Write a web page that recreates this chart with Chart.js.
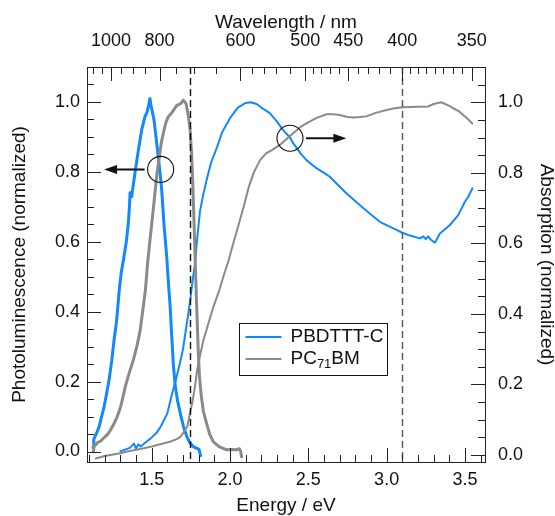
<!DOCTYPE html>
<html><head><meta charset="utf-8">
<script src="https://cdn.jsdelivr.net/npm/chart.js@4.4.1/dist/chart.umd.min.js"></script>
<style>html,body{margin:0;padding:0;background:#fff;overflow:hidden}</style>
</head><body>
<canvas id="c" width="555" height="516"></canvas>
<script>
// ---------- data ----------
const seriesNames = ['PBDTTT-C', 'PC_{71}BM'];

// PBDTTT-C photoluminescence (left axis)
const plBlueE = [1.126,1.13,1.14,1.15,1.165,1.18,1.196,1.21,1.228,1.245,1.26,1.275,1.285,1.293,1.305,1.323,1.338,1.351,1.358,1.362,1.372,1.393,1.415,1.436,1.457,1.47,1.478,1.489,1.495,1.503,1.515,1.53,1.542,1.555,1.564,1.578,1.596,1.61,1.617,1.628,1.638,1.65,1.665,1.685,1.705,1.725,1.745,1.765,1.785,1.802,1.812];
const plBlueV = [0.012,0.035,0.045,0.055,0.071,0.1,0.128,0.16,0.205,0.26,0.32,0.37,0.42,0.462,0.51,0.557,0.6,0.653,0.70,0.74,0.729,0.796,0.862,0.92,0.958,0.97,0.985,1.01,0.99,0.975,0.948,0.89,0.843,0.79,0.748,0.653,0.557,0.462,0.42,0.33,0.25,0.19,0.145,0.105,0.068,0.042,0.024,0.014,0.01,0.006,-0.012];

// PC71BM photoluminescence (left axis)
const plGreyE = [1.128,1.133,1.14,1.153,1.175,1.196,1.22,1.238,1.26,1.28,1.3,1.312,1.334,1.36,1.383,1.405,1.426,1.445,1.46,1.474,1.488,1.5,1.521,1.535,1.549,1.56,1.574,1.59,1.606,1.63,1.66,1.685,1.702,1.72,1.734,1.745,1.755,1.762,1.77,1.777,1.783,1.79,1.797,1.805,1.815,1.83,1.851,1.87,1.893,1.93,1.979,2.01,2.042,2.06,2.068,2.074];
const plGreyV = [0.0,0.02,0.018,0.025,0.03,0.04,0.05,0.062,0.08,0.1,0.125,0.147,0.19,0.23,0.262,0.3,0.345,0.41,0.462,0.54,0.6,0.65,0.74,0.8,0.843,0.88,0.91,0.94,0.958,0.97,0.99,0.995,1.005,0.995,0.96,0.92,0.85,0.77,0.66,0.56,0.47,0.38,0.29,0.215,0.165,0.115,0.08,0.05,0.028,0.014,0.005,0.006,0.005,0.008,0.0,-0.015];

// PBDTTT-C absorption (right axis)
const absBlueE = [1.30,1.33,1.36,1.387,1.40,1.415,1.43,1.46,1.494,1.53,1.557,1.6,1.631,1.653,1.68,1.70,1.72,1.745,1.76,1.776,1.79,1.808,1.83,1.851,1.88,1.915,1.95,2.0,2.05,2.1,2.13,2.17,2.2,2.254,2.3,2.339,2.383,2.403,2.45,2.488,2.552,2.637,2.743,2.85,2.956,3.063,3.10,3.149,3.213,3.235,3.25,3.265,3.28,3.309,3.34,3.404,3.457,3.5,3.521,3.548];
const absBlueV = [0.01,0.015,0.02,0.032,0.018,0.03,0.024,0.035,0.047,0.062,0.08,0.118,0.175,0.21,0.26,0.30,0.36,0.435,0.49,0.54,0.61,0.69,0.74,0.78,0.83,0.87,0.915,0.955,0.985,0.998,1.0,0.995,0.985,0.969,0.945,0.921,0.9,0.884,0.855,0.836,0.813,0.789,0.742,0.70,0.661,0.638,0.63,0.622,0.614,0.62,0.612,0.62,0.611,0.602,0.628,0.652,0.68,0.718,0.732,0.756];

// PC71BM absorption (right axis)
const absGreyE = [1.143,1.2,1.237,1.3,1.344,1.4,1.45,1.5,1.536,1.58,1.621,1.66,1.685,1.705,1.727,1.745,1.76,1.775,1.79,1.81,1.83,1.86,1.894,1.93,1.958,1.99,2.021,2.05,2.087,2.12,2.151,2.192,2.23,2.27,2.318,2.36,2.403,2.45,2.488,2.55,2.616,2.66,2.7,2.75,2.786,2.83,2.871,2.93,3.0,3.05,3.105,3.2,3.264,3.3,3.349,3.4,3.425,3.46,3.489,3.52,3.547];
const absGreyV = [-0.01,-0.003,0.0,0.005,0.01,0.015,0.019,0.024,0.028,0.033,0.038,0.045,0.052,0.065,0.08,0.12,0.15,0.19,0.24,0.285,0.325,0.37,0.42,0.465,0.506,0.55,0.6,0.645,0.704,0.76,0.8,0.836,0.855,0.865,0.879,0.895,0.912,0.93,0.94,0.955,0.966,0.966,0.964,0.958,0.957,0.958,0.96,0.97,0.978,0.983,0.986,0.987,0.988,0.995,1.0,0.99,0.983,0.975,0.964,0.952,0.94];

// ticks
const energyMajor = [1.5, 2.0, 2.5, 3.0, 3.5];
const energyMinor = [1.1,1.2,1.3,1.4,1.6,1.7,1.8,1.9,2.1,2.2,2.3,2.4,2.6,2.7,2.8,2.9,3.1,3.2,3.3,3.4,3.6];
const wavelengthMajor = [1000, 800, 600, 500, 450, 400, 350];
const wavelengthMinor = [1100,1050,950,900,850,750,700,650,580,560,540,520,490,480,470,460,440,430,420,410,393.75,387.5,381.25,375,368.75,362.5,356.25];
const yMajor = [0, 0.2, 0.4, 0.6, 0.8, 1.0];
const yMinor = [0.05,0.1,0.15,0.25,0.3,0.35,0.45,0.5,0.55,0.65,0.7,0.75,0.85,0.9,0.95,1.05,1.1];

// vertical dashed markers (eV) and annotation markers
const markerEnergies = [1.745, 3.1];
const plMarker = {x: 1.557, y: 0.807, arrowTo: 1.196};   // left axis
const absMarker = {x: 2.383, y: 0.898, arrowTo: 2.743};  // right axis

// ---------- styles ----------
const BLUE = '#1188ff';
const GREY = '#8a8a8a';
const INK = '#111111';
const FONT = '"Liberation Sans", Arial, Helvetica, sans-serif';
const tickFont = {family: FONT, size: 18};
const titleFont = {family: FONT, size: 19};

const pts = (E, V) => E.map((e, i) => ({x: e, y: V[i]}));

const overlay = {
  id: 'overlay',
  afterDatasetsDraw(chart) {
    const {ctx, chartArea: ca, scales} = chart;
    ctx.save();
    markerEnergies.forEach((e, i) => {
      const px = Math.round(scales.x.getPixelForValue(e)) + 0.5;
      ctx.beginPath();
      ctx.setLineDash([7, 4]);
      ctx.lineWidth = 1.4;
      ctx.strokeStyle = i === 0 ? '#111' : '#555';
      ctx.moveTo(px, ca.top); ctx.lineTo(px, ca.bottom);
      ctx.stroke();
    });
    ctx.setLineDash([]);
    const drawMarker = (m, yScale, dir) => {
      const cx = scales.x.getPixelForValue(m.x);
      const cy = yScale.getPixelForValue(m.y);
      const r = 13;
      ctx.beginPath();
      ctx.lineWidth = 1.1;
      ctx.strokeStyle = INK;
      ctx.arc(cx, cy, r, 0, Math.PI * 2);
      ctx.stroke();
      const tip = scales.x.getPixelForValue(m.arrowTo);
      const start = cx + dir * (r + 3);
      const head = 13;
      ctx.beginPath();
      ctx.lineWidth = 2;
      ctx.moveTo(start, cy); ctx.lineTo(tip - dir * head * 0.6, cy);
      ctx.stroke();
      ctx.beginPath();
      ctx.fillStyle = INK;
      ctx.moveTo(tip, cy);
      ctx.lineTo(tip - dir * head, cy - 4.5);
      ctx.lineTo(tip - dir * head, cy + 4.5);
      ctx.closePath();
      ctx.fill();
    };
    drawMarker(plMarker, scales.y, -1);
    drawMarker(absMarker, scales.y2, 1);
    ctx.restore();
  },
  afterDraw(chart) {
    const {ctx, chartArea: ca, scales} = chart;
    ctx.save();
    ctx.strokeStyle = '#222';
    ctx.lineWidth = 1;
    const MAJ = 14, MIN = 7;
    const vline = (x, y0, y1) => { const p = Math.round(x) + 0.5; ctx.beginPath(); ctx.moveTo(p, y0); ctx.lineTo(p, y1); ctx.stroke(); };
    const hline = (y, x0, x1) => { const p = Math.round(y) + 0.5; ctx.beginPath(); ctx.moveTo(x0, p); ctx.lineTo(x1, p); ctx.stroke(); };
    const inX = v => v >= scales.x.min && v <= scales.x.max;
    energyMajor.filter(inX).forEach(v => vline(scales.x.getPixelForValue(v), ca.bottom, ca.bottom - MAJ));
    energyMinor.filter(inX).forEach(v => vline(scales.x.getPixelForValue(v), ca.bottom, ca.bottom - MIN));
    wavelengthMajor.map(l => 1240 / l).filter(inX).forEach(v => vline(scales.x2.getPixelForValue(v), ca.top, ca.top + MAJ));
    wavelengthMinor.map(l => 1240 / l).filter(inX).forEach(v => vline(scales.x2.getPixelForValue(v), ca.top, ca.top + MIN));
    yMajor.forEach(v => hline(scales.y.getPixelForValue(v), ca.left, ca.left + MAJ));
    yMinor.forEach(v => hline(scales.y.getPixelForValue(v), ca.left, ca.left + MIN));
    yMajor.forEach(v => hline(scales.y2.getPixelForValue(v), ca.right, ca.right - MAJ));
    yMinor.forEach(v => hline(scales.y2.getPixelForValue(v), ca.right, ca.right - MIN));

    // legend
    const lx = ca.left + 152.5, ly = ca.top + 256.5, lw = 148, lh = 52;
    ctx.fillStyle = '#fff';
    ctx.fillRect(lx, ly, lw, lh);
    ctx.strokeStyle = '#111';
    ctx.strokeRect(lx, ly, lw, lh);
    const colors = [BLUE, GREY];
    seriesNames.forEach((name, i) => {
      const yy = ly + 13.5 + i * 22;
      ctx.beginPath();
      ctx.strokeStyle = colors[i];
      ctx.lineWidth = 2;
      ctx.moveTo(lx + 6, yy); ctx.lineTo(lx + 42, yy);
      ctx.stroke();
      const parts = name.split(/_\{([^}]*)\}/);
      let x = lx + 51;
      ctx.fillStyle = INK;
      ctx.textBaseline = 'middle';
      ctx.textAlign = 'left';
      parts.forEach((p, k) => {
        if (!p) return;
        if (k % 2 === 1) {
          ctx.font = '13px ' + FONT;
          ctx.fillText(p, x, yy + 5);
        } else {
          ctx.font = '19px ' + FONT;
          ctx.fillText(p, x, yy);
        }
        x += ctx.measureText(p).width;
      });
    });
    ctx.restore();
  }
};

const fitW = w => s => { s.width = w; };
const fitH = h => s => { s.height = h; };

new Chart(document.getElementById('c'), {
  type: 'line',
  data: {
    datasets: [
      {label: 'PC71BM PL', data: pts(plGreyE, plGreyV), yAxisID: 'y', borderColor: GREY, borderWidth: 3},
      {label: 'PC71BM abs', data: pts(absGreyE, absGreyV), yAxisID: 'y2', borderColor: GREY, borderWidth: 2},
      {label: 'PBDTTT-C PL', data: pts(plBlueE, plBlueV), yAxisID: 'y', borderColor: BLUE, borderWidth: 3},
      {label: 'PBDTTT-C abs', data: pts(absBlueE, absBlueV), yAxisID: 'y2', borderColor: BLUE, borderWidth: 2}
    ]
  },
  options: {
    responsive: false,
    animation: false,
    devicePixelRatio: 1,
    layout: {padding: 0},
    elements: {point: {radius: 0, hoverRadius: 0}, line: {tension: 0, borderJoinStyle: 'round', borderCapStyle: 'round', fill: false}},
    plugins: {legend: {display: false}, tooltip: {enabled: false}},
    scales: {
      x: {
        type: 'linear', position: 'bottom', min: 1.087, max: 3.628,
        grid: {display: false, drawTicks: false},
        border: {display: true, color: '#222', width: 1},
        ticks: {font: tickFont, color: INK, padding: 7, maxRotation: 0, autoSkip: false, callback: v => Number(v).toFixed(1)},
        afterBuildTicks: s => { s.ticks = energyMajor.map(v => ({value: v})); },
        afterFit: fitH(54),
        title: {display: true, text: 'Energy / eV', font: titleFont, color: INK, padding: {top: 0, bottom: -1.4}}
      },
      x2: {
        type: 'linear', position: 'top', min: 1.087, max: 3.628,
        grid: {display: false, drawTicks: false},
        border: {display: true, color: '#222', width: 1},
        ticks: {font: tickFont, color: INK, padding: 15, maxRotation: 0, autoSkip: false, callback: v => String(Math.round(1240 / v))},
        afterBuildTicks: s => { s.ticks = wavelengthMajor.map(l => ({value: 1240 / l})); },
        afterFit: fitH(67),
        title: {display: true, text: 'Wavelength / nm', font: titleFont, color: INK, padding: {top: 11.6, bottom: 0}}
      },
      y: {
        type: 'linear', position: 'left', min: -0.03, max: 1.1,
        grid: {display: false, drawTicks: false},
        border: {display: true, color: '#222', width: 1},
        ticks: {font: tickFont, color: INK, padding: 7, autoSkip: false, callback: v => Number(v).toFixed(1)},
        afterBuildTicks: s => { s.ticks = yMajor.map(v => ({value: v})); },
        afterFit: fitW(87),
        title: {display: true, text: 'Photoluminescence (normalized)', font: titleFont, color: INK, padding: {top: 8.7, bottom: 0}}
      },
      y2: {
        type: 'linear', position: 'right', min: -0.02, max: 1.1,
        grid: {display: false, drawTicks: false},
        border: {display: true, color: '#222', width: 1},
        ticks: {font: tickFont, color: INK, padding: 13, autoSkip: false, callback: v => Number(v).toFixed(1)},
        afterBuildTicks: s => { s.ticks = yMajor.map(v => ({value: v})); },
        afterFit: fitW(70),
        title: {display: true, text: 'Absorption (normalized)', font: titleFont, color: INK, padding: {top: -3, bottom: 0}}
      }
    }
  },
  plugins: [overlay]
});
</script>
</body></html>
